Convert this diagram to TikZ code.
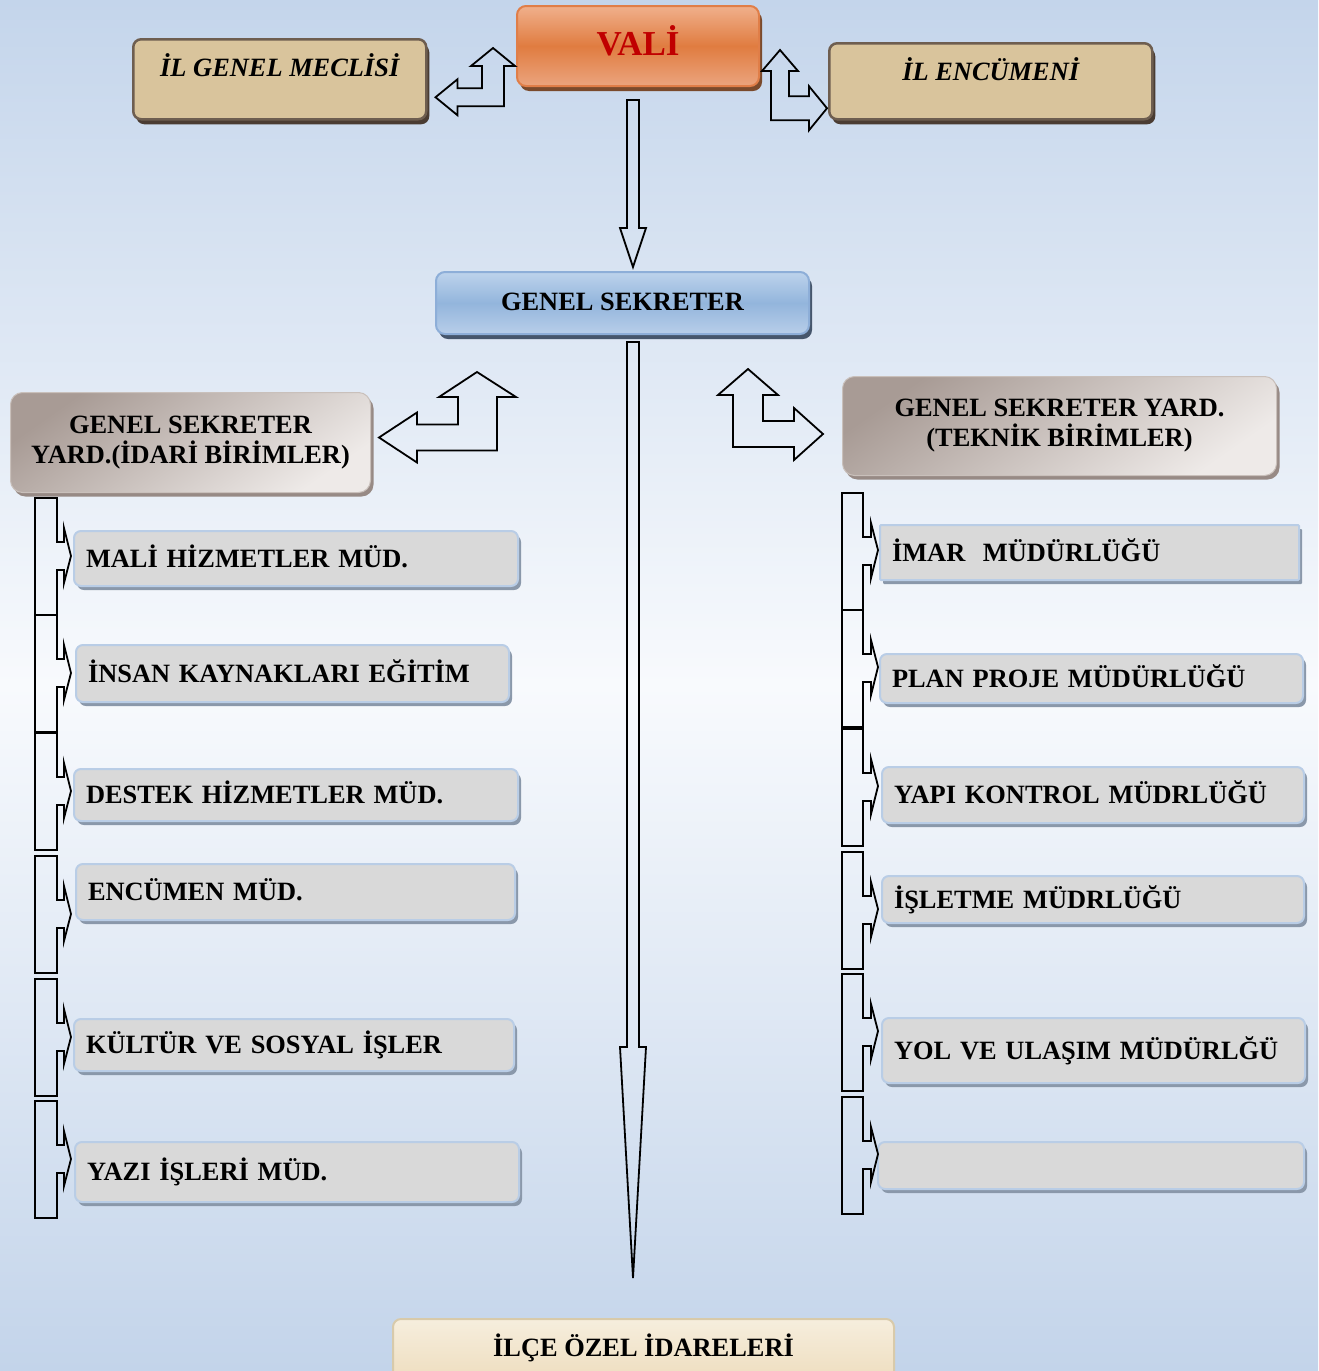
\documentclass[tikz,border=0pt]{standalone}
\usepackage{fontspec}
\setmainfont{Liberation Serif}
\usepackage{xcolor}
\usepackage{tikz}
\usetikzlibrary{calc, positioning}
\definecolor{bgtop}{HTML}{C4D5EB}
\definecolor{bgmid}{HTML}{F8FAFD}
\definecolor{bgbot}{HTML}{C3D4EA}
\definecolor{valitop}{HTML}{F0B08C}
\definecolor{valimid}{HTML}{E07C40}
\definecolor{valibot}{HTML}{EBA47E}
\definecolor{valiedge}{HTML}{E07E48}
\definecolor{valishadow}{HTML}{7A4A2C}
\definecolor{valitext}{HTML}{C00000}
\definecolor{councilfill}{HTML}{D9C49C}
\definecolor{counciledge}{HTML}{6E5E50}
\definecolor{councilshadow}{HTML}{4A3C32}
\definecolor{sectop}{HTML}{BDD3EC}
\definecolor{secmid}{HTML}{93B5DC}
\definecolor{secbot}{HTML}{B8CEE9}
\definecolor{secedge}{HTML}{8DAED8}
\definecolor{secshadow}{HTML}{46566C}
\definecolor{deptop}{HTML}{A89B95}
\definecolor{depbot}{HTML}{EEEAE8}
\definecolor{depedge}{HTML}{C9C0BB}
\definecolor{depshadow}{HTML}{978A85}
\definecolor{unitfill}{HTML}{D9D9D9}
\definecolor{unitedge}{HTML}{B9CDE6}
\definecolor{unitshadow}{HTML}{8A98AA}
\definecolor{ilcetop}{HTML}{F6EEDD}
\definecolor{ilcebot}{HTML}{EEDDBE}
\definecolor{ilceedge}{HTML}{D8CAAA}
\newcommand{\boxfont}{\fontsize{26.4}{30}\selectfont\bfseries}
\tikzset{
    boss/.style={
        rectangle,
        rounded corners=9pt,
        draw=valiedge,
        line width=2pt,
        top color=valitop, bottom color=valibot, middle color=valimid,
        preaction={fill=valishadow, transform canvas={xshift=3pt, yshift=-5pt}},
        inner sep=0pt,
        text=valitext,
        font=\fontsize{35}{40}\selectfont\bfseries,
        anchor=north west,
    },
    council/.style={
        rectangle,
        rounded corners=8pt,
        draw=counciledge,
        line width=2.5pt,
        fill=councilfill,
        preaction={fill=councilshadow, transform canvas={xshift=3pt, yshift=-5pt}},
        inner sep=0pt,
        font=\boxfont\itshape,
        anchor=north west,
    },
    secretary/.style={
        rectangle,
        rounded corners=9pt,
        draw=secedge,
        line width=2pt,
        top color=sectop, bottom color=secbot, middle color=secmid,
        preaction={fill=secshadow, transform canvas={xshift=3pt, yshift=-5pt}},
        inner sep=0pt,
        font=\boxfont,
        anchor=north west,
    },
    deputy/.style={
        rectangle,
        rounded corners=12pt,
        draw=depedge,
        line width=1pt,
        top color=deptop, bottom color=depbot, shading angle=35,
        preaction={fill=depshadow, transform canvas={xshift=3pt, yshift=-4pt}},
        inner sep=0pt,
        align=center,
        font=\boxfont,
        anchor=north west,
    },
    unit/.style={
        rectangle,
        rounded corners=7pt,
        draw=unitedge,
        line width=2pt,
        fill=unitfill,
        preaction={fill=unitshadow, transform canvas={xshift=3pt, yshift=-4pt}},
        inner xsep=12pt, inner ysep=0pt,
        align=left,
        font=\boxfont,
        text height=18pt, text depth=1pt,
        anchor=north west,
    },
    district/.style={
        rectangle,
        rounded corners=8pt,
        draw=ilceedge,
        line width=2pt,
        top color=ilcetop, bottom color=ilcebot,
        inner sep=0pt,
        font=\boxfont,
        anchor=north west,
    },
    hollow/.style={draw=black, line width=1.8pt, line join=miter},
    brace/.style={draw=black, line width=1.8pt},
}

\begin{document}
\begin{tikzpicture}[x=1pt, y=-1pt]
      \useasboundingbox (0,0) rectangle (1318,1371);
      \clip (0,0) rectangle (1318,1371);
      \shade[top color=bgtop, bottom color=bgbot, middle color=bgmid] (0,0) rectangle (1318,1371);

      \node[boss, minimum width=242pt, minimum height=80pt, text height=30pt, text depth=12pt] (vali) at (516,5) {VALİ};
      \node[council, minimum width=293pt, minimum height=80pt, text height=18pt, text depth=24pt] (meclis) at (132,38) {İL GENEL MECLİSİ};
      \node[council, minimum width=323pt, minimum height=76pt, text height=18pt, text depth=20pt] (encumen) at (828,42) {İL ENCÜMENİ};
      \node[secretary, minimum width=373pt, minimum height=62pt, text height=18pt, text depth=4pt] (gs) at (435,271) {GENEL SEKRETER};
      \node[deputy, minimum width=360pt, minimum height=100pt] (gsyA) at (10,392) {GENEL SEKRETER\\YARD.(İDARİ BİRİMLER)};
      \node[deputy, minimum width=434pt, minimum height=99pt] (gsyB) at (842,376) {GENEL SEKRETER YARD.\\(TEKNİK BİRİMLER)};

      \node[unit, text width=420pt, minimum height=55pt] (a1) at (73,530) {MALİ HİZMETLER MÜD.};
      \node[unit, text width=409pt, minimum height=57pt] (a2) at (75,644) {İNSAN KAYNAKLARI EĞİTİM};
      \node[unit, text width=420pt, minimum height=52pt] (a3) at (73,768) {DESTEK HİZMETLER MÜD.};
      \node[unit, text width=415pt, minimum height=56pt] (a4) at (75,863) {ENCÜMEN MÜD.};
      \node[unit, text width=416pt, minimum height=52pt] (a5) at (73,1018) {KÜLTÜR VE SOSYAL İŞLER};
      \node[unit, text width=420pt, minimum height=60pt] (a6) at (74,1141) {YAZI İŞLERİ MÜD.};

      \node[unit, rounded corners=1pt, text width=395pt, minimum height=55pt] (b1) at (879,524) {İMAR\ \ MÜDÜRLÜĞÜ};
      \node[unit, text width=399pt, minimum height=49pt] (b2) at (879,653) {PLAN PROJE MÜDÜRLÜĞÜ};
      \node[unit, text width=398pt, minimum height=56pt] (b3) at (881,766) {YAPI KONTROL MÜDRLÜĞÜ};
      \node[unit, text width=398pt, minimum height=47pt] (b4) at (881,875) {İŞLETME MÜDRLÜĞÜ};
      \node[unit, text width=399pt, minimum height=65pt] (b5) at (881,1017) {YOL VE ULAŞIM MÜDÜRLĞÜ};
      \node[unit, text width=402pt, minimum height=47pt] (b6) at (877,1141) {};

      \node[district, minimum width=501pt, minimum height=62pt, text height=18pt, text depth=6pt] (ilce) at (392,1318) {İLÇE ÖZEL İDARELERİ};

      \draw[hollow] let \p1=($(vali.south)+(-5,13)$), \p2=(gs.north) in
         (\x1-6pt,\y1) -- (\x1+6pt,\y1) -- (\x1+6pt,\y2+43pt) -- (\x1+13pt,\y2+43pt) -- (\x1,\y2+4pt)
         -- (\x1-13pt,\y2+43pt) -- (\x1-6pt,\y2+43pt) -- cycle;
      \draw[hollow] let \p1=($(gs.south)+(10.5,7)$), \p2=(ilce.north) in
         (\x1-6pt,\y1) -- (\x1+6pt,\y1) -- (\x1+6pt,\y2+271pt) -- (\x1+13pt,\y2+271pt) -- (\x1,\y2+40pt)
         -- (\x1-13pt,\y2+271pt) -- (\x1-6pt,\y2+271pt) -- cycle;

      \draw[hollow] let \p1=($(meclis.east)+(8,18)$), \p2=($(vali.west)+(-23,2)$) in
         (\x1,\y1) -- (\x1+22pt,\y1+18pt) -- (\x1+22pt,\y1+9pt) -- (\x2-11pt,\y1+9pt) -- (\x2-11pt,\y2-18pt)
         -- (\x2-22pt,\y2-18pt) -- (\x2,\y2) -- (\x2+22pt,\y2-18pt) -- (\x2+11pt,\y2-18pt) -- (\x2+11pt,\y1-9pt)
         -- (\x1+22pt,\y1-9pt) -- (\x1+22pt,\y1-18pt) -- cycle;
      \draw[hollow] let \p1=($(vali.east)+(20,4)$), \p2=($(encumen.west)+(-1,27)$) in
         (\x1,\y1) -- (\x1+18pt,\y1-21pt) -- (\x1+9pt,\y1-21pt) -- (\x1+9pt,\y2+12pt) -- (\x2-18pt,\y2+12pt)
         -- (\x2-18pt,\y2+22pt) -- (\x2,\y2) -- (\x2-18pt,\y2-22pt) -- (\x2-18pt,\y2-12pt) -- (\x1-9pt,\y2-12pt)
         -- (\x1-9pt,\y1-21pt) -- (\x1-18pt,\y1-21pt) -- cycle;

      \draw[hollow] let \p1=($(gsyA.east)+(8,-5)$), \p2=($(gs.south west)+(42,37)$) in
         (\x1,\y1) -- (\x1+38pt,\y1+25pt) -- (\x1+38pt,\y1+13pt) -- (\x2-19pt,\y1+13pt) -- (\x2-19pt,\y2-25pt)
         -- (\x2-38pt,\y2-25pt) -- (\x2,\y2) -- (\x2+39pt,\y2-25pt) -- (\x2+20pt,\y2-25pt) -- (\x2+20pt,\y1-13pt)
         -- (\x1+38pt,\y1-13pt) -- (\x1+38pt,\y1-25pt) -- cycle;
      \draw[hollow] let \p1=($(gs.south east)+(-62,34)$), \p2=($(gsyB.west)+(-19,8)$) in
         (\x1,\y1) -- (\x1+30pt,\y1-26pt) -- (\x1+15pt,\y1-26pt) -- (\x1+15pt,\y2+13pt) -- (\x2-29pt,\y2+13pt)
         -- (\x2-29pt,\y2+26pt) -- (\x2,\y2) -- (\x2-29pt,\y2-26pt) -- (\x2-29pt,\y2-13pt) -- (\x1-15pt,\y2-13pt)
         -- (\x1-15pt,\y1-26pt) -- (\x1-30pt,\y1-26pt) -- cycle;

      \foreach \t in {498,615,733,856,979,1101}
         \draw[brace] (35,\t) -- (57,\t) -- (57,\t+44) -- (64,\t+44) -- (64,\t+30) -- (71,\t+58) -- (64,\t+85)
            -- (64,\t+72) -- (57,\t+72) -- (57,\t+117) -- (35,\t+117) -- cycle;
      \foreach \t in {493,610,729,852,974,1097}
         \draw[brace] (842,\t) -- (863,\t) -- (863,\t+44) -- (871,\t+44) -- (871,\t+30) -- (878,\t+57) -- (871,\t+85)
            -- (871,\t+72) -- (863,\t+72) -- (863,\t+117) -- (842,\t+117) -- cycle;
    \end{tikzpicture}
\end{document}
